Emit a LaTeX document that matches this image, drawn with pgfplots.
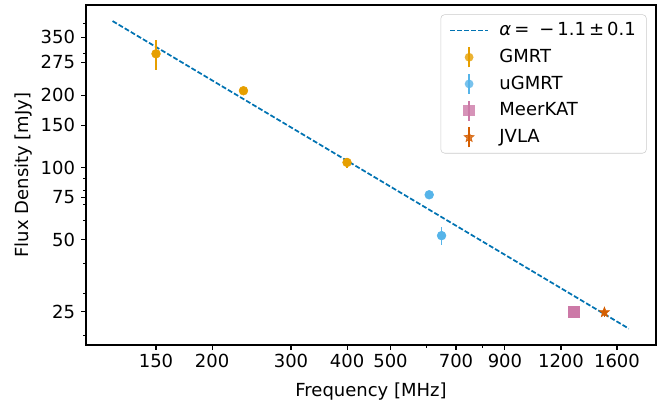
\documentclass[border=0pt]{standalone}
\usepackage{pgfplots}
\pgfplotsset{compat=1.18}
\usepackage{fontspec}
\setmainfont{DejaVu Sans}
\definecolor{cline}{HTML}{0173B2}
\definecolor{cgmrt}{HTML}{E69F00}
\definecolor{cugmrt}{HTML}{56B4E9}
\definecolor{cmeer}{HTML}{CC79A7}
\definecolor{cjvla}{HTML}{D55E00}
\pgfdeclareplotmark{fstar}{%
  \pgfpathmoveto{\pgfpointpolar{90}{\pgfplotmarksize}}%
  \pgfpathlineto{\pgfpointpolar{126}{0.42\pgfplotmarksize}}%
  \pgfpathlineto{\pgfpointpolar{162}{\pgfplotmarksize}}%
  \pgfpathlineto{\pgfpointpolar{198}{0.42\pgfplotmarksize}}%
  \pgfpathlineto{\pgfpointpolar{234}{\pgfplotmarksize}}%
  \pgfpathlineto{\pgfpointpolar{270}{0.42\pgfplotmarksize}}%
  \pgfpathlineto{\pgfpointpolar{306}{\pgfplotmarksize}}%
  \pgfpathlineto{\pgfpointpolar{342}{0.42\pgfplotmarksize}}%
  \pgfpathlineto{\pgfpointpolar{18}{\pgfplotmarksize}}%
  \pgfpathlineto{\pgfpointpolar{54}{0.42\pgfplotmarksize}}%
  \pgfpathclose
  \pgfusepathqfillstroke
}
\begin{document}
\fontsize{13.5}{16}\selectfont
\begin{tikzpicture}
\useasboundingbox (-64.5pt,-42pt) rectangle (432.75pt,258.75pt);
\begin{axis}[
  at={(0pt,0pt)}, anchor=south west,
  scale only axis, width=427.5pt, height=255pt,
  xmode=log, ymode=log,
  xmin=104.7, xmax=1955, ymin=18.2, ymax=476,
  xtick={150,200,300,400,500,700,900,1200,1600},
  xticklabels={150,200,300,400,500,700,900,1200,1600},
  minor xtick={600,800,2000},
  ytick={25,50,75,100,150,200,275,350},
  yticklabels={25,50,75,100,150,200,275,350},
  minor ytick={20,30,40,60,70,80,90,300,400},
  tick align=outside, tick pos=left,
  major tick length=3.5pt, minor tick length=2pt,
  every tick/.style={black, line width=0.8pt},
  every minor tick/.append style={line width=0.6pt},
  axis line style={line width=0.8pt},
  ticklabel style={font=\fontsize{13.5}{16}\selectfont},
  xticklabel style={yshift=1pt},
  /pgf/number format/assume math mode=true,
  xlabel={Frequency [MHz]}, ylabel={Flux Density [mJy]},
  label style={font=\fontsize{13.5}{16}\selectfont},
  x label style={at={(axis description cs:0.5,0)}, anchor=center, yshift=-35pt},
  y label style={at={(axis description cs:-0.109,0.5)}, anchor=center},
  legend style={at={(axis description cs:0.9837,0.9726)}, anchor=north east,
    draw=black!20, rounded corners=3pt, fill=white, fill opacity=0.8, text opacity=1,
    font=\fontsize{13.5}{16}\selectfont, inner xsep=4pt, inner ysep=2pt,
    nodes={inner xsep=4pt, inner ysep=2pt, text height=12pt, text depth=4pt},
    column sep=0pt},
  legend cell align=left,
]
\addplot[cline, line width=1.3pt, dash pattern=on 3.7pt off 1.6pt, forget plot]
  coordinates {(120,408) (1700,21.3)};
\addplot[only marks, mark=*, mark size=3.3pt, color=cgmrt, forget plot,
  error bars/.cd, y dir=both, y explicit, error bar style={line width=1.1pt, cgmrt}, error mark=none]
  coordinates {(150,298) +- (0,42) (235,209) +- (0,7) (400,105) +- (0,5)};
\addplot[only marks, mark=*, mark size=3.3pt, color=cugmrt, forget plot,
  error bars/.cd, y dir=both, y explicit, error bar style={line width=1.1pt, cugmrt}, error mark=none]
  coordinates {(610,77) +- (0,2.5) (650,52) +- (0,4.5)};
\addplot[only marks, mark=square*, mark size=4.3pt, color=cmeer, forget plot,
  error bars/.cd, y dir=both, y explicit, error bar style={line width=1.1pt, cmeer}, error mark=none]
  coordinates {(1283,25.0) +- (0,1)};
\addplot[only marks, mark=fstar, mark size=4pt, color=cjvla, forget plot,
  error bars/.cd, y dir=both, y explicit, error bar style={line width=1.1pt, cjvla}, error mark=none]
  coordinates {(1500,24.9) +- (0,1)};
\addlegendimage{legend image code/.code={\path[draw=none,fill=none] (-3pt,0pt) -- (33pt,0pt);
  \draw[cline, sharp corners, line width=1.3pt, dash pattern=on 3.7pt off 1.6pt] (0pt,0pt) -- (28.5pt,0pt);}}
\addlegendentry{\textit{α}\,=\;\;−\,1.1\,±\,0.1}
\addlegendimage{legend image code/.code={\path[draw=none,fill=none] (-3pt,0pt) -- (33pt,0pt);
  \draw[cgmrt, sharp corners, solid, line width=1.1pt] (14.25pt,-7.5pt) -- (14.25pt,7.5pt);
  \path[fill=cgmrt, draw=none] (14.25pt,0pt) circle (3.3pt);}}
\addlegendentry{GMRT}
\addlegendimage{legend image code/.code={\path[draw=none,fill=none] (-3pt,0pt) -- (33pt,0pt);
  \draw[cugmrt, sharp corners, solid, line width=1.1pt] (14.25pt,-7.5pt) -- (14.25pt,7.5pt);
  \path[fill=cugmrt, draw=none] (14.25pt,0pt) circle (3.3pt);}}
\addlegendentry{uGMRT}
\addlegendimage{legend image code/.code={\path[draw=none,fill=none] (-3pt,0pt) -- (33pt,0pt);
  \draw[cmeer, sharp corners, solid, line width=1.1pt] (14.25pt,-7.5pt) -- (14.25pt,7.5pt);
  \path[fill=cmeer, draw=none, sharp corners] (10pt,-4.25pt) rectangle (18.5pt,4.25pt);}}
\addlegendentry{MeerKAT}
\addlegendimage{legend image code/.code={\path[draw=none,fill=none] (-3pt,0pt) -- (33pt,0pt);
  \draw[cjvla, sharp corners, solid, line width=1.1pt] (14.25pt,-7.5pt) -- (14.25pt,7.5pt);
  \path[draw=cjvla, fill=cjvla, sharp corners, solid] plot[mark=fstar, mark size=4pt] coordinates {(14.25pt,0pt)};}}
\addlegendentry{JVLA}
\end{axis}
\end{tikzpicture}
\end{document}
